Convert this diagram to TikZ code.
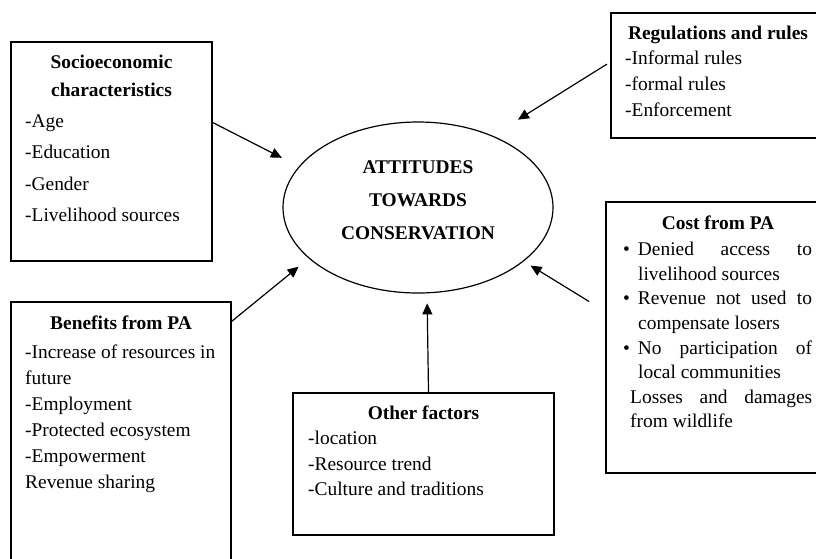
\documentclass[tikz,border=0pt]{standalone}
\usepackage{fontspec}
\setmainfont{Liberation Serif}
\usetikzlibrary{arrows.meta, shapes.geometric}

\begin{document}
\begin{tikzpicture}[x=1pt, y=-1pt,
    frame/.style={draw, line width=1.3pt, inner sep=0pt},
    head/.style={anchor=north, align=center, inner sep=0pt, font=\fontsize{19.4}{#1}\selectfont\bfseries},
    body/.style={anchor=north west, align=left, inner sep=0pt, font=\fontsize{19.4}{#1}\selectfont},
    arr/.style={-{Triangle[length=11pt, width=10pt]}, line width=1.2pt}]
  \useasboundingbox (0,0) rectangle (816,558);
  \clip (0,0) rectangle (816,558);

  % frames (the right and bottom ones run off the page)
  \foreach \n/\x/\y/\w/\h in {
      socio/111.5/151.5/201/219,
      rules/720.5/75.5/219/125,
      cost/718/337.5/224/271,
      benefit/121/436/220/268,
      other/423.5/464/261/142} {
    \node[frame, minimum width=\w pt, minimum height=\h pt] (\n) at (\x,\y) {};
  }
  \node[draw, ellipse, line width=1.2pt, minimum width=270pt, minimum height=171pt] (att) at (418,207.5) {};
  \node[head=33, anchor=center] (atttxt) at (418,200) {ATTITUDES\\TOWARDS\\CONSERVATION};

  \node[head=28] (sociohead) at (111.5,55) {Socioeconomic\\characteristics};
  \node[body=31.5] (sociotxt) at (25,114) {-Age\\-Education\\-Gender\\-Livelihood sources};

  \node[head=26] (ruleshead) at (718,26) {Regulations and rules};
  \node[body=25.7] (rulestxt) at (625,51) {-Informal rules\\-formal rules\\-Enforcement};

  \node[head=26] (costhead) at (718,216) {Cost from PA};
  \node[body=24.6] (costtxt) at (623,242) {%
    \textbullet\hspace{8pt}\makebox[174pt][s]{Denied access to}\\
    \hspace*{15pt}livelihood sources\\
    \textbullet\hspace{8pt}\makebox[174pt][s]{Revenue not used to}\\
    \hspace*{15pt}compensate losers\\
    \textbullet\hspace{8pt}\makebox[174pt][s]{No participation of}\\
    \hspace*{15pt}local communities\\
    \hspace*{7pt}\makebox[182pt][s]{Losses and damages}\\
    \hspace*{7pt}from wildlife};

  \node[head=26] (benefithead) at (121,316) {Benefits from PA};
  \node[body=26] (benefittxt) at (25,345) {-Increase of resources in\\future\\-Employment\\-Protected ecosystem\\-Empowerment\\Revenue sharing};

  \node[head=26] (otherhead) at (423.5,406) {Other factors};
  \node[body=25.5] (othertxt) at (308,431) {-location\\-Resource trend\\-Culture and traditions};

  % arrows into the ellipse
  \draw[arr, shorten >=19pt] (socio.16) -- (att.161);
  \draw[arr, shorten <=4pt, shorten >=30pt] (rules.173) -- (att.44);
  \draw[arr, shorten <=19pt, shorten >=8pt] (cost.167) -- (att.333);
  \draw[arr, shorten >=13pt] (benefit.46) -- (att.205.5);
  \draw[arr, shorten >=10pt] (other.86.4) -- (att.276.7);
\end{tikzpicture}
\end{document}
